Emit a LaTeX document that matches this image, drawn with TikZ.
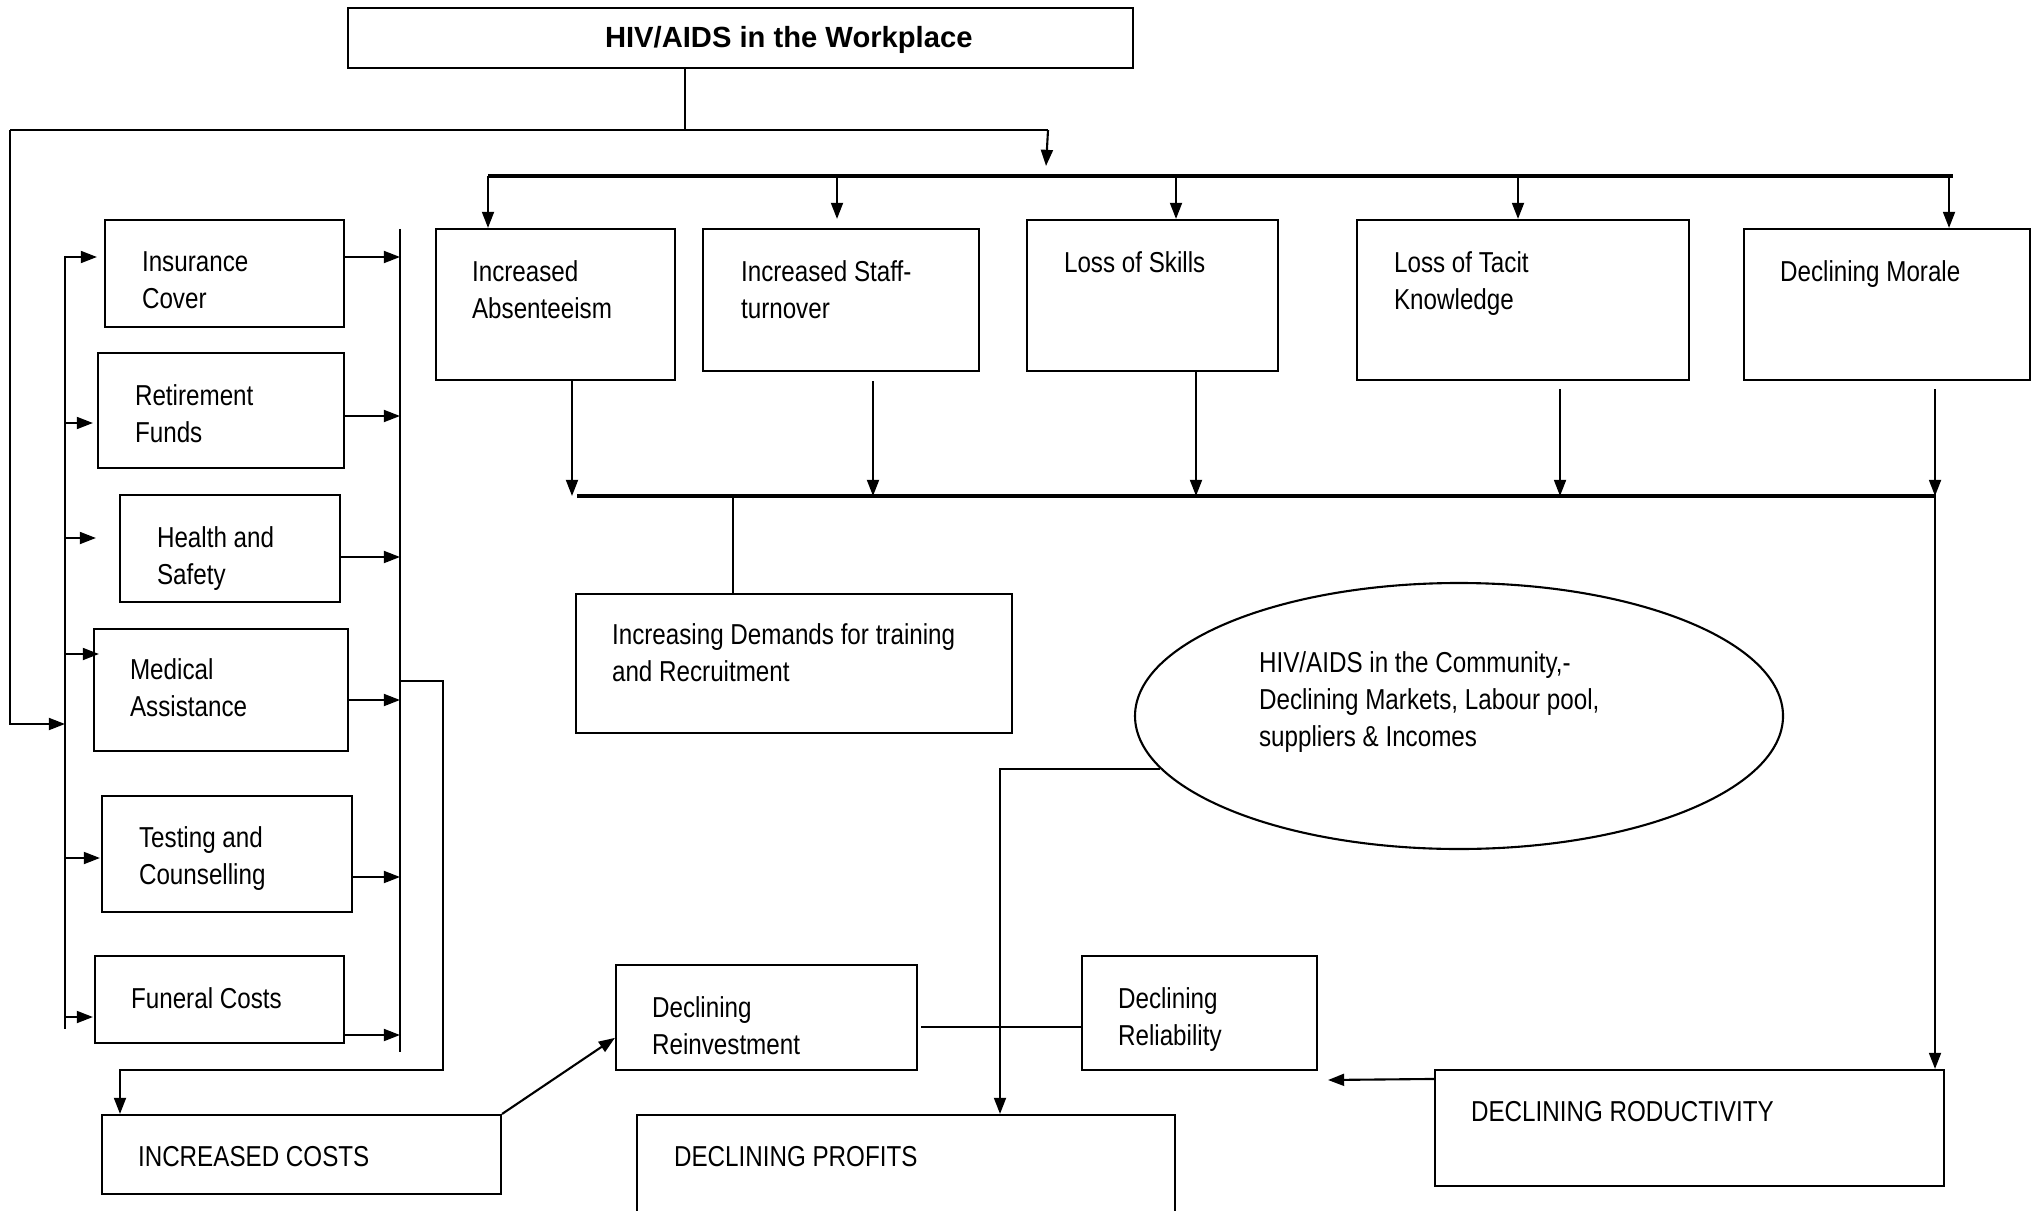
\documentclass[tikz,border=0pt]{standalone}
\usepackage{fontspec}
\setmainfont{Liberation Sans}
\newfontfamily\narrowfont{Liberation Sans}[FakeStretch=0.84]
\usetikzlibrary{arrows.meta,fit,shapes.geometric,calc}

\begin{document}
\begin{tikzpicture}[x=1cm, y=-1cm, line width=0.6pt,
  box/.style={draw, inner sep=0pt},
  txt/.style={anchor=north west, inner sep=0pt, align=left,
    font=\narrowfont\fontsize{8.2}{10.4}\selectfont},
  arr/.style={-{Triangle[length=4.6pt,width=3.4pt]}},
  bus/.style={line width=0.9pt}]
  \clip (0,0) rectangle (20.42,12.10);

  % title box
  \node[box, fit={(3.48,0.08) (11.33,0.68)}] (work) {};
  \node[anchor=north west, inner sep=0pt, font=\bfseries\fontsize{8.3}{10}\selectfont]
    (work-t) at (6.04,0.255) {HIV/AIDS in the Workplace};

  % cost items (left column)
  \node[box, fit={(1.05,2.20) (3.44,3.27)}] (ins) {};
  \node[txt] (ins-t) at (1.41,2.51) {Insurance\\Cover};
  \node[box, fit={(0.98,3.53) (3.44,4.68)}] (ret) {};
  \node[txt] (ret-t) at (1.34,3.84) {Retirement\\Funds};
  \node[box, fit={(1.20,4.95) (3.40,6.02)}] (hlth) {};
  \node[txt] (hlth-t) at (1.56,5.26) {Health and\\Safety};
  \node[box, fit={(0.94,6.29) (3.48,7.51)}] (med) {};
  \node[txt] (med-t) at (1.29,6.58) {Medical\\Assistance};
  \node[box, fit={(1.02,7.96) (3.52,9.12)}] (test) {};
  \node[txt] (test-t) at (1.38,8.26) {Testing and\\Counselling};
  \node[box, fit={(0.95,9.56) (3.44,10.43)}] (fun) {};
  \node[txt] (fun-t) at (1.30,9.87) {Funeral Costs};

  % workforce effects (top row)
  \node[box, fit={(4.36,2.29) (6.75,3.80)}] (absent) {};
  \node[txt] (absent-t) at (4.71,2.60) {Increased\\Absenteeism};
  \node[box, fit={(7.03,2.29) (9.79,3.71)}] (staff) {};
  \node[txt] (staff-t) at (7.40,2.60) {Increased Staff-\\turnover};
  \node[box, fit={(10.27,2.20) (12.78,3.71)}] (skills) {};
  \node[txt] (skills-t) at (10.63,2.51) {Loss of Skills};
  \node[box, fit={(13.57,2.20) (16.89,3.80)}] (tacit) {};
  \node[txt] (tacit-t) at (13.93,2.51) {Loss of Tacit\\Knowledge};
  \node[box, fit={(17.44,2.29) (20.30,3.80)}] (morale) {};
  \node[txt] (morale-t) at (17.79,2.60) {Declining Morale};

  % middle and bottom
  \node[box, fit={(5.76,5.94) (10.12,7.33)}] (demand) {};
  \node[txt] (demand-t) at (6.11,6.23) {Increasing Demands for training\\and Recruitment};
  \node[draw, ellipse, inner sep=0pt, minimum width=6.48cm, minimum height=2.66cm] (comm) at (14.59,7.16) {};
  \node[txt] (comm-t) at (12.58,6.51) {HIV/AIDS in the Community,-\\Declining Markets, Labour pool,\\suppliers \& Incomes};
  \node[box, fit={(6.16,9.65) (9.17,10.70)}] (reinv) {};
  \node[txt] (reinv-t) at (6.51,9.96) {Declining\\Reinvestment};
  \node[box, fit={(10.82,9.56) (13.17,10.70)}] (reli) {};
  \node[txt] (reli-t) at (11.17,9.87) {Declining\\Reliability};
  \node[box, fit={(14.35,10.70) (19.44,11.86)}] (prod) {};
  \node[txt] (prod-t) at (14.70,11.00) {DECLINING RODUCTIVITY};
  \node[box, fit={(1.02,11.15) (5.01,11.94)}] (costs) {};
  \node[txt] (costs-t) at (1.37,11.45) {INCREASED COSTS};
  \node[box, fit={(6.37,11.15) (11.75,12.40)}] (profit) {};
  \node[txt] (profit-t) at (6.73,11.45) {DECLINING PROFITS};

  % bus lines
  \coordinate (stem) at (6.85,1.30);
  \coordinate (busA-l) at (0.10,1.30);
  \coordinate (busA-r) at (10.48,1.30);
  \coordinate (busB-in) at (10.46,1.66);
  \coordinate (dist-in) at (0.65,7.24);
  \coordinate (coll) at (4.00,0);
  \draw (work.south -| stem) -- (stem);
  \draw (busA-l) -- (busA-r);
  \draw[arr] (busA-r) -- (busB-in);
  \draw[arr] (busA-l) |- (dist-in);
  \draw (0.65,2.56) -- (0.65,10.29);
  \draw (4.00,2.29) -- (4.00,10.52);
  \draw[bus] (4.88,1.76) -- (19.53,1.76);
  \draw[bus] (5.77,4.96) -- (19.36,4.96);

  % left column in and out
  \foreach \n/\y/\s in {ins/2.57/0.07, ret/4.23/0.04, hlth/5.38/0.23,
                        med/6.54/-0.06, test/8.58/0.01, fun/10.17/0.01}{
    \path (0.65,\y) coordinate (p);
    \draw[arr, shorten >=\s cm] (p) -- (p -| \n.west);
  }
  \foreach \n/\y in {ins/2.57, ret/4.16, hlth/5.57, med/7.00, test/8.77, fun/10.35}{
    \path (0,\y) coordinate (q);
    \draw[arr] (q -| \n.east) -- (q -| coll);
  }
  \coordinate (c1) at (1.20,10.70);
  \draw[arr] (4.00,6.81) -- (4.43,6.81) -- (4.43,10.70) -- (c1) -- (c1 |- costs.north);

  % top row in and out
  \foreach \n/\x/\s in {absent/4.88/0, staff/8.37/0.09, skills/11.76/0,
                        tacit/15.18/0, morale/19.49/0}{
    \path (\x,1.76) coordinate (b);
    \draw[arr, shorten >=\s cm] (b) -- (b |- \n.north);
  }
  \foreach \n/\x/\s in {absent/5.72/0, staff/8.73/0.09, skills/11.96/0,
                        tacit/15.60/0.08, morale/19.35/0.08}{
    \path (\x,4.96) coordinate (c);
    \draw[arr, shorten <=\s cm] (c |- \n.south) -- (c);
  }
  \coordinate (d) at (7.33,4.96);
  \draw (d) -- (d |- demand.north);
  \coordinate (r) at (19.35,4.96);
  \draw[arr] (r) -- (r |- prod.north);

  % bottom links
  \coordinate (drop) at (10.00,0);
  \draw[arr] (comm.190) -| (drop |- profit.north);
  \coordinate (link) at (9.21,10.27);
  \draw (link) -- (link -| reli.west);
  \draw[arr] (costs.north east) -- ($(reinv.south west)!0.31!(reinv.north west)$);
  \coordinate (reli-in) at (13.28,10.80);
  \draw[arr] ($(prod.north west)+(0,0.10)$) -- (reli-in);
\end{tikzpicture}
\end{document}
